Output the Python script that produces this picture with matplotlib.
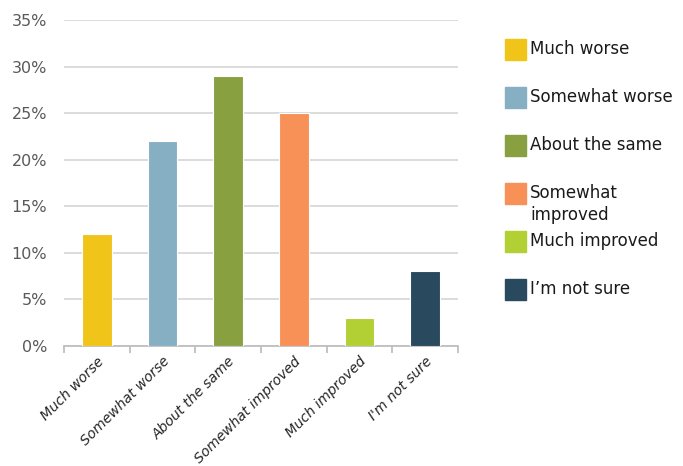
import matplotlib.pyplot as plt
from matplotlib.patches import Rectangle
from matplotlib.ticker import PercentFormatter

categories = ['Much worse', 'Somewhat worse', 'About the same', 'Somewhat improved', 'Much improved', "I'm not sure"]
legend_labels = ['Much worse', 'Somewhat worse', 'About the same', 'Somewhat\nimproved', 'Much improved', "I\u2019m not sure"]
values = [12, 22, 29, 25, 3, 8]
colors = ['#F0C419', '#86AFC4', '#88A040', '#F79158', '#B2CF34', '#29495E']
yticks = [0, 5, 10, 15, 20, 25, 30, 35]

plt.rcParams['font.family'] = ['DejaVu Sans']

fig = plt.figure(figsize=(6.83, 4.66), dpi=100)
ax = fig.add_axes([64 / 683, 1 - 346 / 466, 394 / 683, 326 / 466])

x = list(range(len(categories)))
ax.bar(x, values, width=0.45, color=colors, edgecolor='white', linewidth=0.8, zorder=3)

ax.set_xlim(-0.5, len(categories) - 0.5)
ax.set_ylim(0, 35)
ax.set_yticks(yticks)
ax.yaxis.set_major_formatter(PercentFormatter(decimals=0))
ax.grid(axis='y', color='#D9D9D9', linewidth=1.3, zorder=0)
ax.set_axisbelow(True)

for s in ['top', 'right', 'left']:
    ax.spines[s].set_visible(False)
ax.spines['bottom'].set_color('#BFBFBF')
ax.spines['bottom'].set_linewidth(1.3)

ax.tick_params(axis='y', length=0, pad=12, labelsize=11.5, labelcolor='#595959')
ax.set_xticks(x)
ax.set_xticklabels(categories, rotation=45, ha='right', rotation_mode='anchor',
                   fontstyle='italic', fontsize=10, color='#262626')
ax.tick_params(axis='x', which='major', length=0, pad=6)
ax.set_xticks([i - 0.5 for i in range(len(categories) + 1)], minor=True)
ax.tick_params(axis='x', which='minor', length=5, color='#BFBFBF', width=1.3)

# legend drawn by hand to keep the uneven wrapping of the original
W, H = 683, 466
for i, (lab, col) in enumerate(zip(legend_labels, colors)):
    cy = 49.5 + i * 48
    fig.patches.append(Rectangle((505 / W, 1 - (cy + 10.5) / H), 21 / W, 21 / H,
                                 transform=fig.transFigure, color=col))
    for j, line in enumerate(lab.split('\n')):
        fig.text(530 / W, 1 - (cy + j * 21) / H, line, fontsize=12,
                 color='#1A1A1A', va='center')

fig.savefig('out.png', dpi=100)
